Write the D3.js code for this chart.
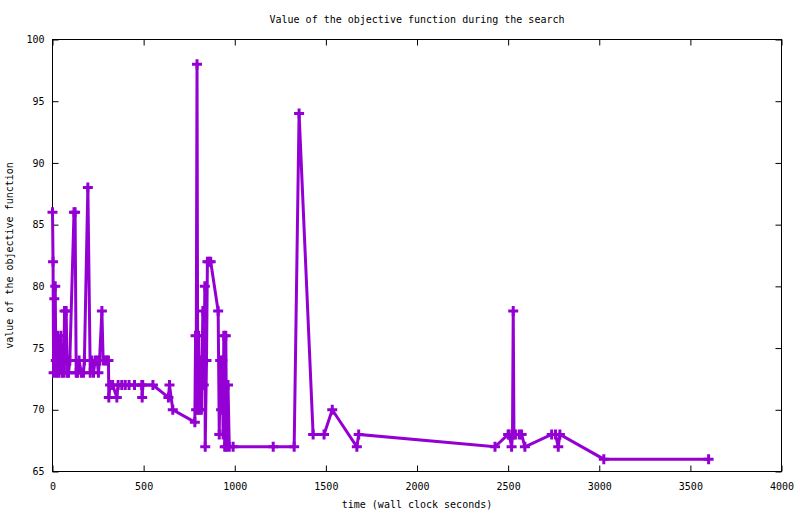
<!DOCTYPE html>
<html>
<head>
<meta charset="utf-8">
<script src="https://cdn.jsdelivr.net/npm/d3@7"></script>
<style>
  body { margin: 0; background: #fff; }
  text { font-family: "DejaVu Sans Mono", monospace; font-size: 10px; fill: #000; }
</style>
</head>
<body>
<svg id="chart" width="800" height="514"></svg>
<script>
// search trace: wall clock seconds and objective value
var times = [0, 3, 6, 10, 15, 18, 22, 28, 34, 40, 46, 52, 58, 62, 66, 70, 75, 80, 88, 95,
	118, 124, 130, 137, 146, 158, 170, 175, 194, 207, 215, 225, 234, 245,
	252, 258, 271, 278, 290, 300, 307, 309, 316, 330, 353, 360, 380, 399, 420, 450, 490, 492, 495,
	551, 636, 642, 660, 781, 785, 788, 793, 797, 802, 806, 812, 817, 825, 830, 836, 838, 845, 850, 859,
	868, 909, 915, 920, 925, 932, 936, 940, 945, 951, 955, 963, 970, 991, 1211, 1326, 1353, 1430, 1490, 1535,
	1670, 1680, 2428, 2500, 2506, 2519, 2524, 2528, 2532, 2540, 2561, 2574, 2592, 2739, 2760, 2775, 2784, 3025, 3600];
var values = [86, 82, 73, 79, 80, 74, 73, 76, 73, 74, 76, 73, 74, 73, 78, 74, 78, 73, 73, 74,
	86, 86, 73, 73, 74, 73, 73, 74, 88, 73, 74, 73, 74, 74,
	73, 74, 78, 74, 74, 74, 74, 71, 72, 72, 71, 72, 72, 72, 72, 72, 72, 71, 72,
	72, 71, 72, 70, 69, 76, 70, 98, 70, 76, 70, 74, 70, 78, 72, 80, 67, 74, 82, 82,
	82, 78, 68, 74, 70, 74, 68, 76, 67, 76, 67, 72, 67, 67, 67, 67, 94, 68, 68, 70,
	67, 68, 67, 68, 68, 67, 68, 78, 68, 68, 68, 68, 67, 68, 68, 67, 68, 66, 66];
var xTicks = [0, 500, 1000, 1500, 2000, 2500, 3000, 3500, 4000];
var yTicks = [65, 70, 75, 80, 85, 90, 95, 100];

var title = "Value of the objective function during the search";
var xLabel = "time (wall clock seconds)";
var yLabel = "value of the objective function";

drawChart();

function drawChart(){
	var svg = d3.select("#chart");
	var left = 52.5, right = 781.5, top = 39.5, bottom = 471.5;
	var purple = "#9400d3";

	var x = d3.scaleLinear().domain([0, 4000]).range([left, right]);
	var y = d3.scaleLinear().domain([65, 100]).range([bottom, top]);

	var points = times.map(function(t, i){ return [t, values[i]]; });

	// axes, ticks pointing inward and mirrored (gnuplot look)
	svg.append("g")
		.attr("transform", "translate(0," + bottom + ")")
		.call(d3.axisBottom(x).tickValues(xTicks).tickFormat(d3.format("d"))
			.tickSize(-6).tickSizeOuter(0).tickPadding(11));
	svg.append("g")
		.attr("transform", "translate(0," + top + ")")
		.call(d3.axisTop(x).tickValues(xTicks).tickSize(-6).tickSizeOuter(0).tickFormat(""));
	svg.append("g")
		.attr("transform", "translate(" + left + ",0)")
		.call(d3.axisLeft(y).tickValues(yTicks).tickSize(-6).tickSizeOuter(0).tickPadding(8));
	svg.append("g")
		.attr("transform", "translate(" + right + ",0)")
		.call(d3.axisRight(y).tickValues(yTicks).tickSize(-6).tickSizeOuter(0).tickFormat(""));

	svg.selectAll(".tick line").attr("stroke", "#000");
	svg.selectAll(".domain").remove();
	svg.selectAll(".tick text")
		.style("font-family", "DejaVu Sans Mono, monospace")
		.style("font-size", "10px");

	svg.append("rect")
		.attr("x", left).attr("y", top)
		.attr("width", right - left).attr("height", bottom - top)
		.attr("fill", "none").attr("stroke", "#000").attr("stroke-width", 1);

	// data line
	var line = d3.line()
		.x(function(d){ return x(d[0]); })
		.y(function(d){ return y(d[1]); });

	svg.append("path")
		.datum(points)
		.attr("d", line)
		.attr("fill", "none")
		.attr("stroke", purple)
		.attr("stroke-width", 3)
		.attr("stroke-linejoin", "miter");

	// plus markers
	svg.append("g").selectAll("path")
		.data(points)
		.enter().append("path")
		.attr("d", function(d){
			var cx = x(d[0]), cy = y(d[1]), r = 5;
			return "M" + (cx - r) + "," + cy + "H" + (cx + r) + "M" + cx + "," + (cy - r) + "V" + (cy + r);
		})
		.attr("stroke", purple)
		.attr("stroke-width", 3)
		.attr("fill", "none");

	// titles
	svg.append("text")
		.attr("x", (left + right) / 2).attr("y", 23)
		.attr("text-anchor", "middle")
		.text(title);
	svg.append("text")
		.attr("x", (left + right) / 2).attr("y", 508)
		.attr("text-anchor", "middle")
		.text(xLabel);
	svg.append("text")
		.attr("transform", "translate(13," + ((top + bottom) / 2) + ") rotate(-90)")
		.attr("text-anchor", "middle")
		.text(yLabel);
}
</script>
</body>
</html>
